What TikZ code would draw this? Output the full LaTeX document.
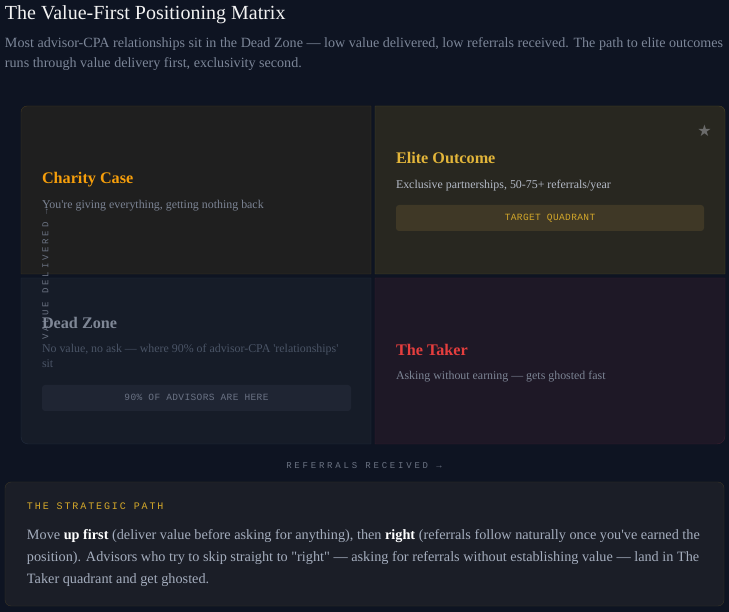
\documentclass[tikz,border=0pt]{standalone}
\usepackage{fontspec}
\setmainfont{Liberation Serif}[Ligatures=TeXOff]
\newfontfamily\monoA[LetterSpace=4]{Liberation Mono}
\newfontfamily\monoB[LetterSpace=31]{Liberation Mono}
\newfontfamily\monoC[LetterSpace=19]{Liberation Mono}
\newfontfamily\symfont{DejaVu Sans}
\definecolor{bg}{HTML}{0E1422}
\definecolor{titlec}{HTML}{F2F2F2}
\definecolor{subc}{HTML}{7C8698}
\definecolor{tlfill}{HTML}{1F1F1F}
\definecolor{tldraw}{HTML}{44381F}
\definecolor{trfill}{HTML}{282720}
\definecolor{trdraw}{HTML}{4D4727}
\definecolor{blfill}{HTML}{161C28}
\definecolor{bldraw}{HTML}{232D40}
\definecolor{brfill}{HTML}{1E1826}
\definecolor{brdraw}{HTML}{3D1F30}
\definecolor{orangec}{HTML}{F59E0B}
\definecolor{goldc}{HTML}{E2B53A}
\definecolor{redc}{HTML}{E53E3E}
\definecolor{deadc}{HTML}{7F8796}
\definecolor{descc}{HTML}{7C8494}
\definecolor{desclt}{HTML}{B4BAC6}
\definecolor{descdim}{HTML}{4A5466}
\definecolor{tgtfill}{HTML}{3F3826}
\definecolor{tgttext}{HTML}{D4A82A}
\definecolor{dzfill}{HTML}{1F2533}
\definecolor{dztext}{HTML}{6B7385}
\definecolor{axisc}{HTML}{6B7383}
\definecolor{starc}{HTML}{6B6B6B}
\definecolor{boxfill}{HTML}{1B1E27}
\definecolor{boxdraw}{HTML}{3A3526}
\definecolor{parac}{HTML}{A4ADBD}
\begin{document}
\begin{tikzpicture}[x=1pt,y=-1pt,
  txt/.style={anchor=base west, inner sep=0pt, outer sep=0pt},
  subtxt/.style={txt, text=subc, font=\fontsize{14.1}{16}\selectfont},
  qtitle/.style={txt, font=\bfseries\fontsize{16.2}{18}\selectfont},
  qdesc/.style={txt, font=\fontsize{11.9}{14}\selectfont},
  btntxt/.style={anchor=base, inner sep=0pt, font=\monoA\fontsize{9.5}{11}\selectfont},
  axistxt/.style={inner sep=0pt, text=axisc, font=\monoB\fontsize{9}{11}\selectfont},
  paratxt/.style={txt, text=parac, font=\fontsize{14.25}{16}\selectfont}]
\fill[bg] (0,0) rectangle (729,612);
\useasboundingbox (0,0) rectangle (729,612);

\node[txt, text=titlec, font=\fontsize{20}{22}\selectfont] (title) at (5,20) {The Value-First Positioning Matrix};
\node[subtxt] (sub1) at (5,48) {Most advisor-CPA relationships sit in the Dead Zone — low value delivered, low referrals received. The path to elite outcomes};
\node[subtxt] (sub2) at (5,68) {runs through value delivery first, exclusivity second.};

% quadrants
\filldraw[fill=tlfill, draw=tldraw] (21,274) -- (21,112) arc[start angle=180, end angle=270, radius=6] -- (371,106) -- (371,274) -- cycle;
\filldraw[fill=trfill, draw=trdraw] (375,106) -- (719,106) arc[start angle=270, end angle=360, radius=6] -- (725,274) -- (375,274) -- cycle;
\filldraw[fill=blfill, draw=bldraw] (21,278) -- (21,437) arc[start angle=180, end angle=90, radius=7] -- (371,444) -- (371,278) -- cycle;
\filldraw[fill=brfill, draw=brdraw] (375,278) -- (725,278) -- (725,436) arc[start angle=0, end angle=90, radius=8] -- (375,444) -- cycle;

% axis label vertical
\node[axistxt, rotate=90, anchor=base west] (yaxis) at (48.5,340) {VALUE DELIVERED →};

% Charity case
\node[qtitle, text=orangec] (cc) at (42,184) {Charity Case};
\node[qdesc, text=descc] (ccd) at (42,208.5) {You're giving everything, getting nothing back};

% Elite
\node[font=\symfont\fontsize{16}{16}\selectfont, text=starc, inner sep=0pt] (star) at (704.5,131) {★};
\node[qtitle, text=goldc] (eo) at (396,164) {Elite Outcome};
\node[qdesc, text=desclt] (eod) at (396,188.5) {Exclusive partnerships, 50-75+ referrals/year};
\fill[tgtfill, rounded corners=3pt] (396,205) rectangle (704,231);
\node[btntxt, text=tgttext] (tgt) at (550,221) {TARGET QUADRANT};

% Dead zone
\node[qtitle, text=deadc] (dz) at (42,329) {Dead Zone};
\node[qdesc, text=descdim] (dzd1) at (42,353) {No value, no ask — where 90\% of advisor-CPA 'relationships'};
\node[qdesc, text=descdim] (dzd2) at (42,368) {sit};
\fill[dzfill, rounded corners=3pt] (42,385) rectangle (351,411);
\node[btntxt, text=dztext] (dzb) at (196.5,401) {90\% OF ADVISORS ARE HERE};

% Taker
\node[qtitle, text=redc] (tk) at (396,356) {The Taker};
\node[qdesc, text=descc] (tkd) at (396,380) {Asking without earning — gets ghosted fast};

% x axis
\node[axistxt, anchor=base] (xaxis) at (364,469) {REFERRALS RECEIVED →};

% strategic path box
\filldraw[fill=boxfill, draw=boxdraw, rounded corners=6pt] (5,482) rectangle (724,606);
\node[txt, text=tgttext, font=\monoC\fontsize{10}{12}\selectfont] (sp) at (27,510) {THE STRATEGIC PATH};
\node[paratxt] (p1) at (27,539) {Move \textcolor{white}{\textbf{up first}} (deliver value before asking for anything), then \textcolor{white}{\textbf{right}} (referrals follow naturally once you've earned the};
\node[paratxt] (p2) at (27,561) {position). Advisors who try to skip straight to "right" — asking for referrals without establishing value — land in The};
\node[paratxt] (p3) at (27,583) {Taker quadrant and get ghosted.};
\end{tikzpicture}
\end{document}
